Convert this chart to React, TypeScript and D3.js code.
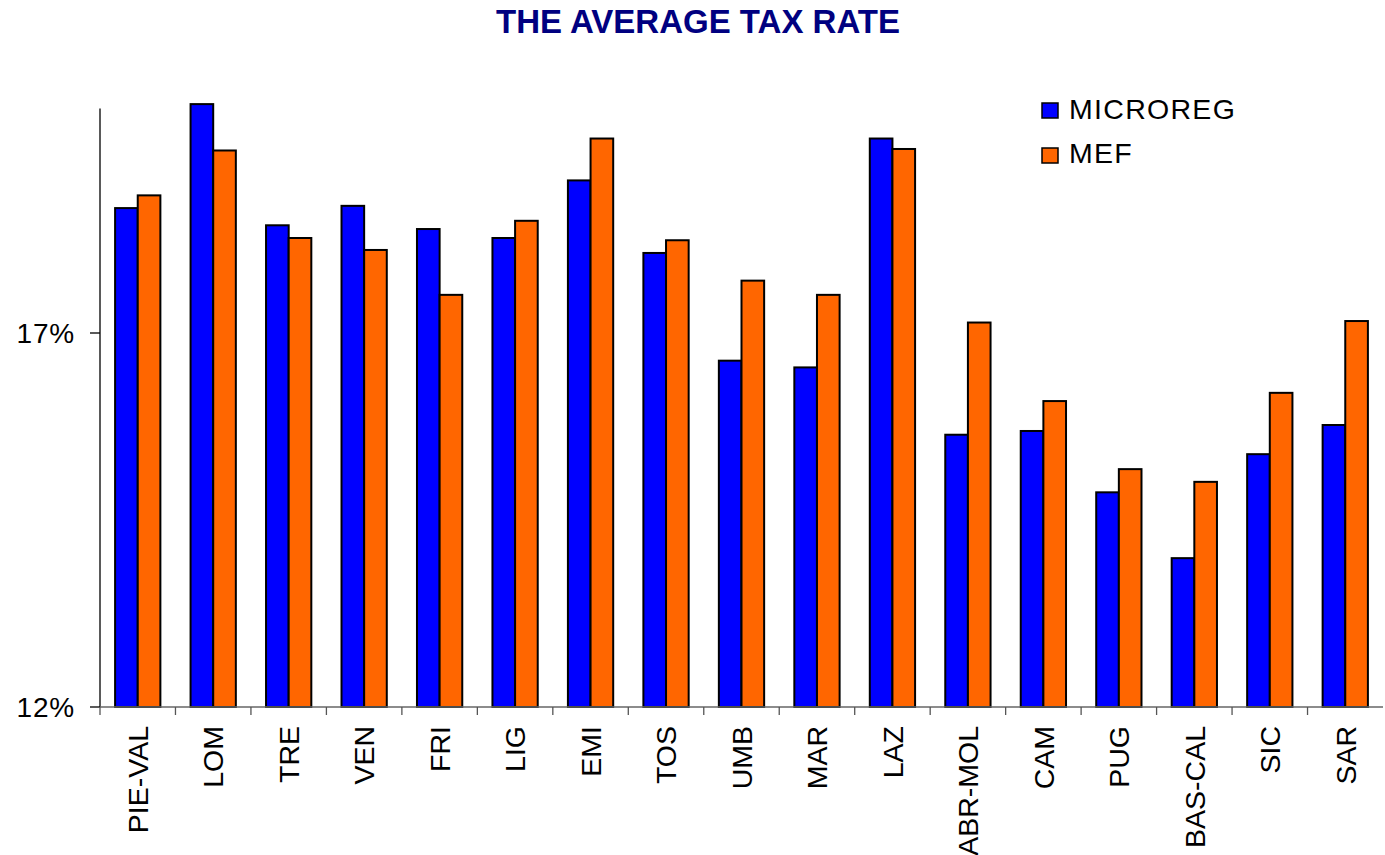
import React from "react";
import * as d3 from "d3";

const categories = ["PIE-VAL", "LOM", "TRE", "VEN", "FRI", "LIG", "EMI", "TOS", "UMB", "MAR", "LAZ", "ABR-MOL", "CAM", "PUG", "BAS-CAL", "SIC", "SAR"];
const microreg = [18.67, 20.06, 18.44, 18.7, 18.39, 18.27, 19.04, 18.07, 16.63, 16.54, 19.6, 15.64, 15.69, 14.87, 13.99, 15.38, 15.77];
const mef = [18.84, 19.44, 18.27, 18.11, 17.51, 18.5, 19.6, 18.24, 17.7, 17.51, 19.46, 17.14, 16.09, 15.18, 15.01, 16.2, 17.16];
const seriesNames = ["MICROREG", "MEF"];
const seriesColors = ["#0000FF", "#FF6600"];
const yTicks = [12, 17];

const W = 1385, H = 855;
const left = 100, right = 1383, top = 108.6, bottom = 707;
const font = "'Liberation Sans', Arial, sans-serif";

export default function App() {
  const x = d3.scaleBand<string>().domain(categories).range([left, right]).padding(0);
  const y = d3.scaleLinear().domain([12, 20]).range([bottom, top]);
  const bw = x.bandwidth();
  const barW = bw * 0.3;
  const off = (bw - 2 * barW) / 2;
  const series = [microreg, mef];

  return (
    <svg width={W} height={H} style={{ position: "absolute", left: 0, top: 0, background: "#fff" }}>
      <text x={698} y={33} textAnchor="middle" fontFamily={font} fontWeight="bold" fontSize={33} fill="#000080">THE AVERAGE TAX RATE</text>

      {categories.map((c, i) => (
        <g key={c}>
          {series.map((s, k) => (
            <rect key={k}
              x={(x(c) as number) + off + k * barW}
              y={y(s[i])}
              width={barW}
              height={bottom - y(s[i])}
              fill={seriesColors[k]}
              stroke="#000" strokeWidth={2} />
          ))}
        </g>
      ))}

      {/* y axis */}
      <line x1={left} x2={left} y1={top} y2={bottom} stroke="#000" strokeWidth={1.3} />
      {yTicks.map(t => (
        <g key={t}>
          <line x1={left - 10} x2={left} y1={y(t)} y2={y(t)} stroke="#000" strokeWidth={1.3} />
          <text x={75} y={y(t)} dy="0.36em" textAnchor="end" fontFamily={font} fontSize={28} letterSpacing={0.8} fill="#000">{t}%</text>
        </g>
      ))}

      {/* x axis */}
      <line x1={left} x2={right} y1={bottom} y2={bottom} stroke="#666" strokeWidth={1.3} />
      {categories.map((c) => (
        <line key={"t" + c} x1={(x(c) as number)} x2={(x(c) as number)} y1={bottom} y2={bottom + 8} stroke="#555" strokeWidth={1.3} />
      ))}
      {categories.map(c => {
        const cx = (x(c) as number) + bw / 2;
        return (
          <text key={"l" + c} transform={`translate(${cx},726) rotate(-90)`} dy="0.36em" textAnchor="end" fontFamily={font} fontSize={28.5} fill="#000">{c}</text>
        );
      })}

      {/* legend */}
      {seriesNames.map((n, k) => (
        <g key={n}>
          <rect x={1042} y={103 + k * 45} width={16} height={15} fill={seriesColors[k]} stroke="#000" strokeWidth={1.5} />
          <text x={1069} y={119 + k * 44} fontFamily={font} fontSize={28.5} letterSpacing={1.3} fill="#000">{n}</text>
        </g>
      ))}
    </svg>
  );
}
